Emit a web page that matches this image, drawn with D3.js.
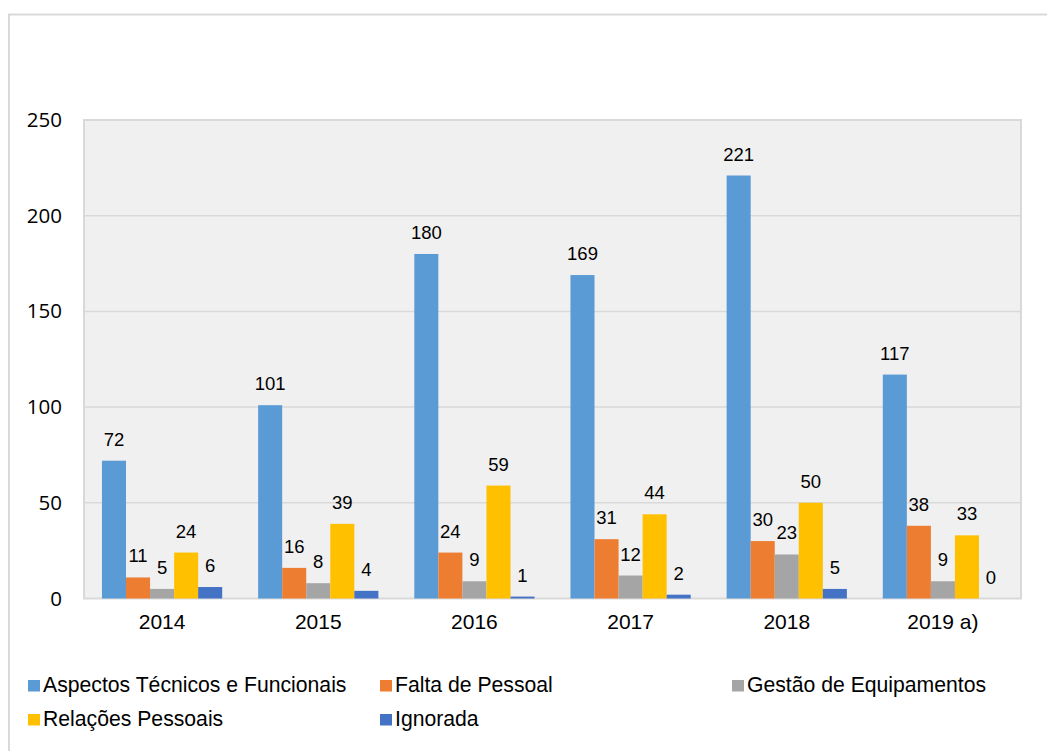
<!DOCTYPE html>
<html>
<head>
<meta charset="utf-8">
<script src="https://cdn.jsdelivr.net/npm/d3@7"></script>
<style>
  body { margin: 0; background: #fff; }
  svg { display: block; }
</style>
</head>
<body>
<svg id="chart" width="1047" height="751"></svg>
<script>
// categories and series
const years = ['2014', '2015', '2016', '2017', '2018', '2019 a)']
const seriesNames = [
  'Aspectos Técnicos e Funcionais',
  'Falta de Pessoal',
  'Gestão de Equipamentos',
  'Relações Pessoais',
  'Ignorada'
]
const seriesColors = ['#5b9bd5', '#ed7d31', '#a5a5a5', '#ffc000', '#4472c4']
const aspectos = [72, 101, 180, 169, 221, 117]
const falta = [11, 16, 24, 31, 30, 38]
const gestao = [5, 8, 9, 12, 23, 9]
const relacoes = [24, 39, 59, 44, 50, 33]
const ignorada = [6, 4, 1, 2, 5, 0]
const yTicks = [0, 50, 100, 150, 200, 250]

const seriesValues = [aspectos, falta, gestao, relacoes, ignorada]

const svg = d3.select('#chart')
const plot = { left: 84, right: 1021, top: 120, bottom: 598.5 }

// outer chart frame (open to the right and bottom)
svg.append('rect')
  .attr('x', 9).attr('y', 14.5)
  .attr('width', 1060).attr('height', 760)
  .attr('fill', 'none')
  .attr('stroke', '#d9d9d9')
  .attr('stroke-width', 2)

const x0 = d3.scaleBand()
  .domain(years)
  .range([plot.left, plot.right])
  .paddingInner(0.23)
  .paddingOuter(0.115)

const x1 = d3.scaleBand()
  .domain(seriesNames)
  .range([0, x0.bandwidth()])

const y = d3.scaleLinear()
  .domain([0, 250])
  .range([plot.bottom, plot.top])

// plot background
svg.append('rect')
  .attr('x', plot.left).attr('y', plot.top)
  .attr('width', plot.right - plot.left)
  .attr('height', plot.bottom - plot.top)
  .attr('fill', '#f0f0f0')
  .attr('stroke', '#d9d9d9')
  .attr('stroke-width', 2)

// gridlines
svg.append('g')
  .selectAll('line')
  .data(yTicks.slice(1, -1))
  .join('line')
  .attr('x1', plot.left).attr('x2', plot.right)
  .attr('y1', d => y(d)).attr('y2', d => y(d))
  .attr('stroke', '#d9d9d9')
  .attr('stroke-width', 1.5)

// y axis labels
const yAxis = svg.append('g')
  .attr('transform', `translate(${plot.left},0)`)
  .call(d3.axisLeft(y).tickValues(yTicks).tickSize(0).tickPadding(22))
yAxis.select('.domain').remove()
yAxis.selectAll('text')
  .attr('font-family', '"Open Sans", "Noto Sans", sans-serif')
  .attr('font-size', 20.5)
  .attr('fill', '#000')

// x axis labels
const xAxis = svg.append('g')
  .attr('transform', `translate(0,${plot.bottom})`)
  .call(d3.axisBottom(x0).tickSize(0).tickPadding(16))
xAxis.select('.domain').remove()
xAxis.selectAll('text')
  .attr('font-family', '"Liberation Sans", Arial, sans-serif')
  .attr('font-size', 21)
  .attr('fill', '#000')

// bars
const rows = years.map((yr, i) => ({
  year: yr,
  items: seriesNames.map((s, j) => ({ name: s, value: seriesValues[j][i], color: seriesColors[j] }))
}))

const groups = svg.append('g')
  .selectAll('g')
  .data(rows)
  .join('g')
  .attr('transform', d => `translate(${x0(d.year)},0)`)

groups.selectAll('rect')
  .data(d => d.items)
  .join('rect')
  .attr('x', d => x1(d.name))
  .attr('y', d => y(d.value))
  .attr('width', x1.bandwidth())
  .attr('height', d => y(0) - y(d.value))
  .attr('fill', d => d.color)

// value labels
groups.selectAll('text')
  .data(d => d.items)
  .join('text')
  .attr('x', d => x1(d.name) + x1.bandwidth() / 2)
  .attr('y', d => y(d.value) - 15)
  .attr('text-anchor', 'middle')
  .attr('font-family', '"Liberation Sans", Arial, sans-serif')
  .attr('font-size', 18.5)
  .attr('fill', '#000')
  .text(d => d.value)

// legend
const legendPos = [
  { x: 28, y: 692 }, { x: 380, y: 692 }, { x: 732, y: 692 },
  { x: 28, y: 726 }, { x: 380, y: 726 }
]
const legend = svg.append('g')
  .selectAll('g')
  .data(seriesNames)
  .join('g')
  .attr('transform', (d, i) => `translate(${legendPos[i].x},${legendPos[i].y})`)

legend.append('rect')
  .attr('x', 0).attr('y', -12)
  .attr('width', 12).attr('height', 11.5)
  .attr('fill', (d, i) => seriesColors[i])

legend.append('text')
  .attr('x', 15)
  .attr('y', 0)
  .attr('font-family', '"Liberation Sans", Arial, sans-serif')
  .attr('font-size', 21.2)
  .attr('fill', '#000')
  .text(d => d)
</script>
</body>
</html>
